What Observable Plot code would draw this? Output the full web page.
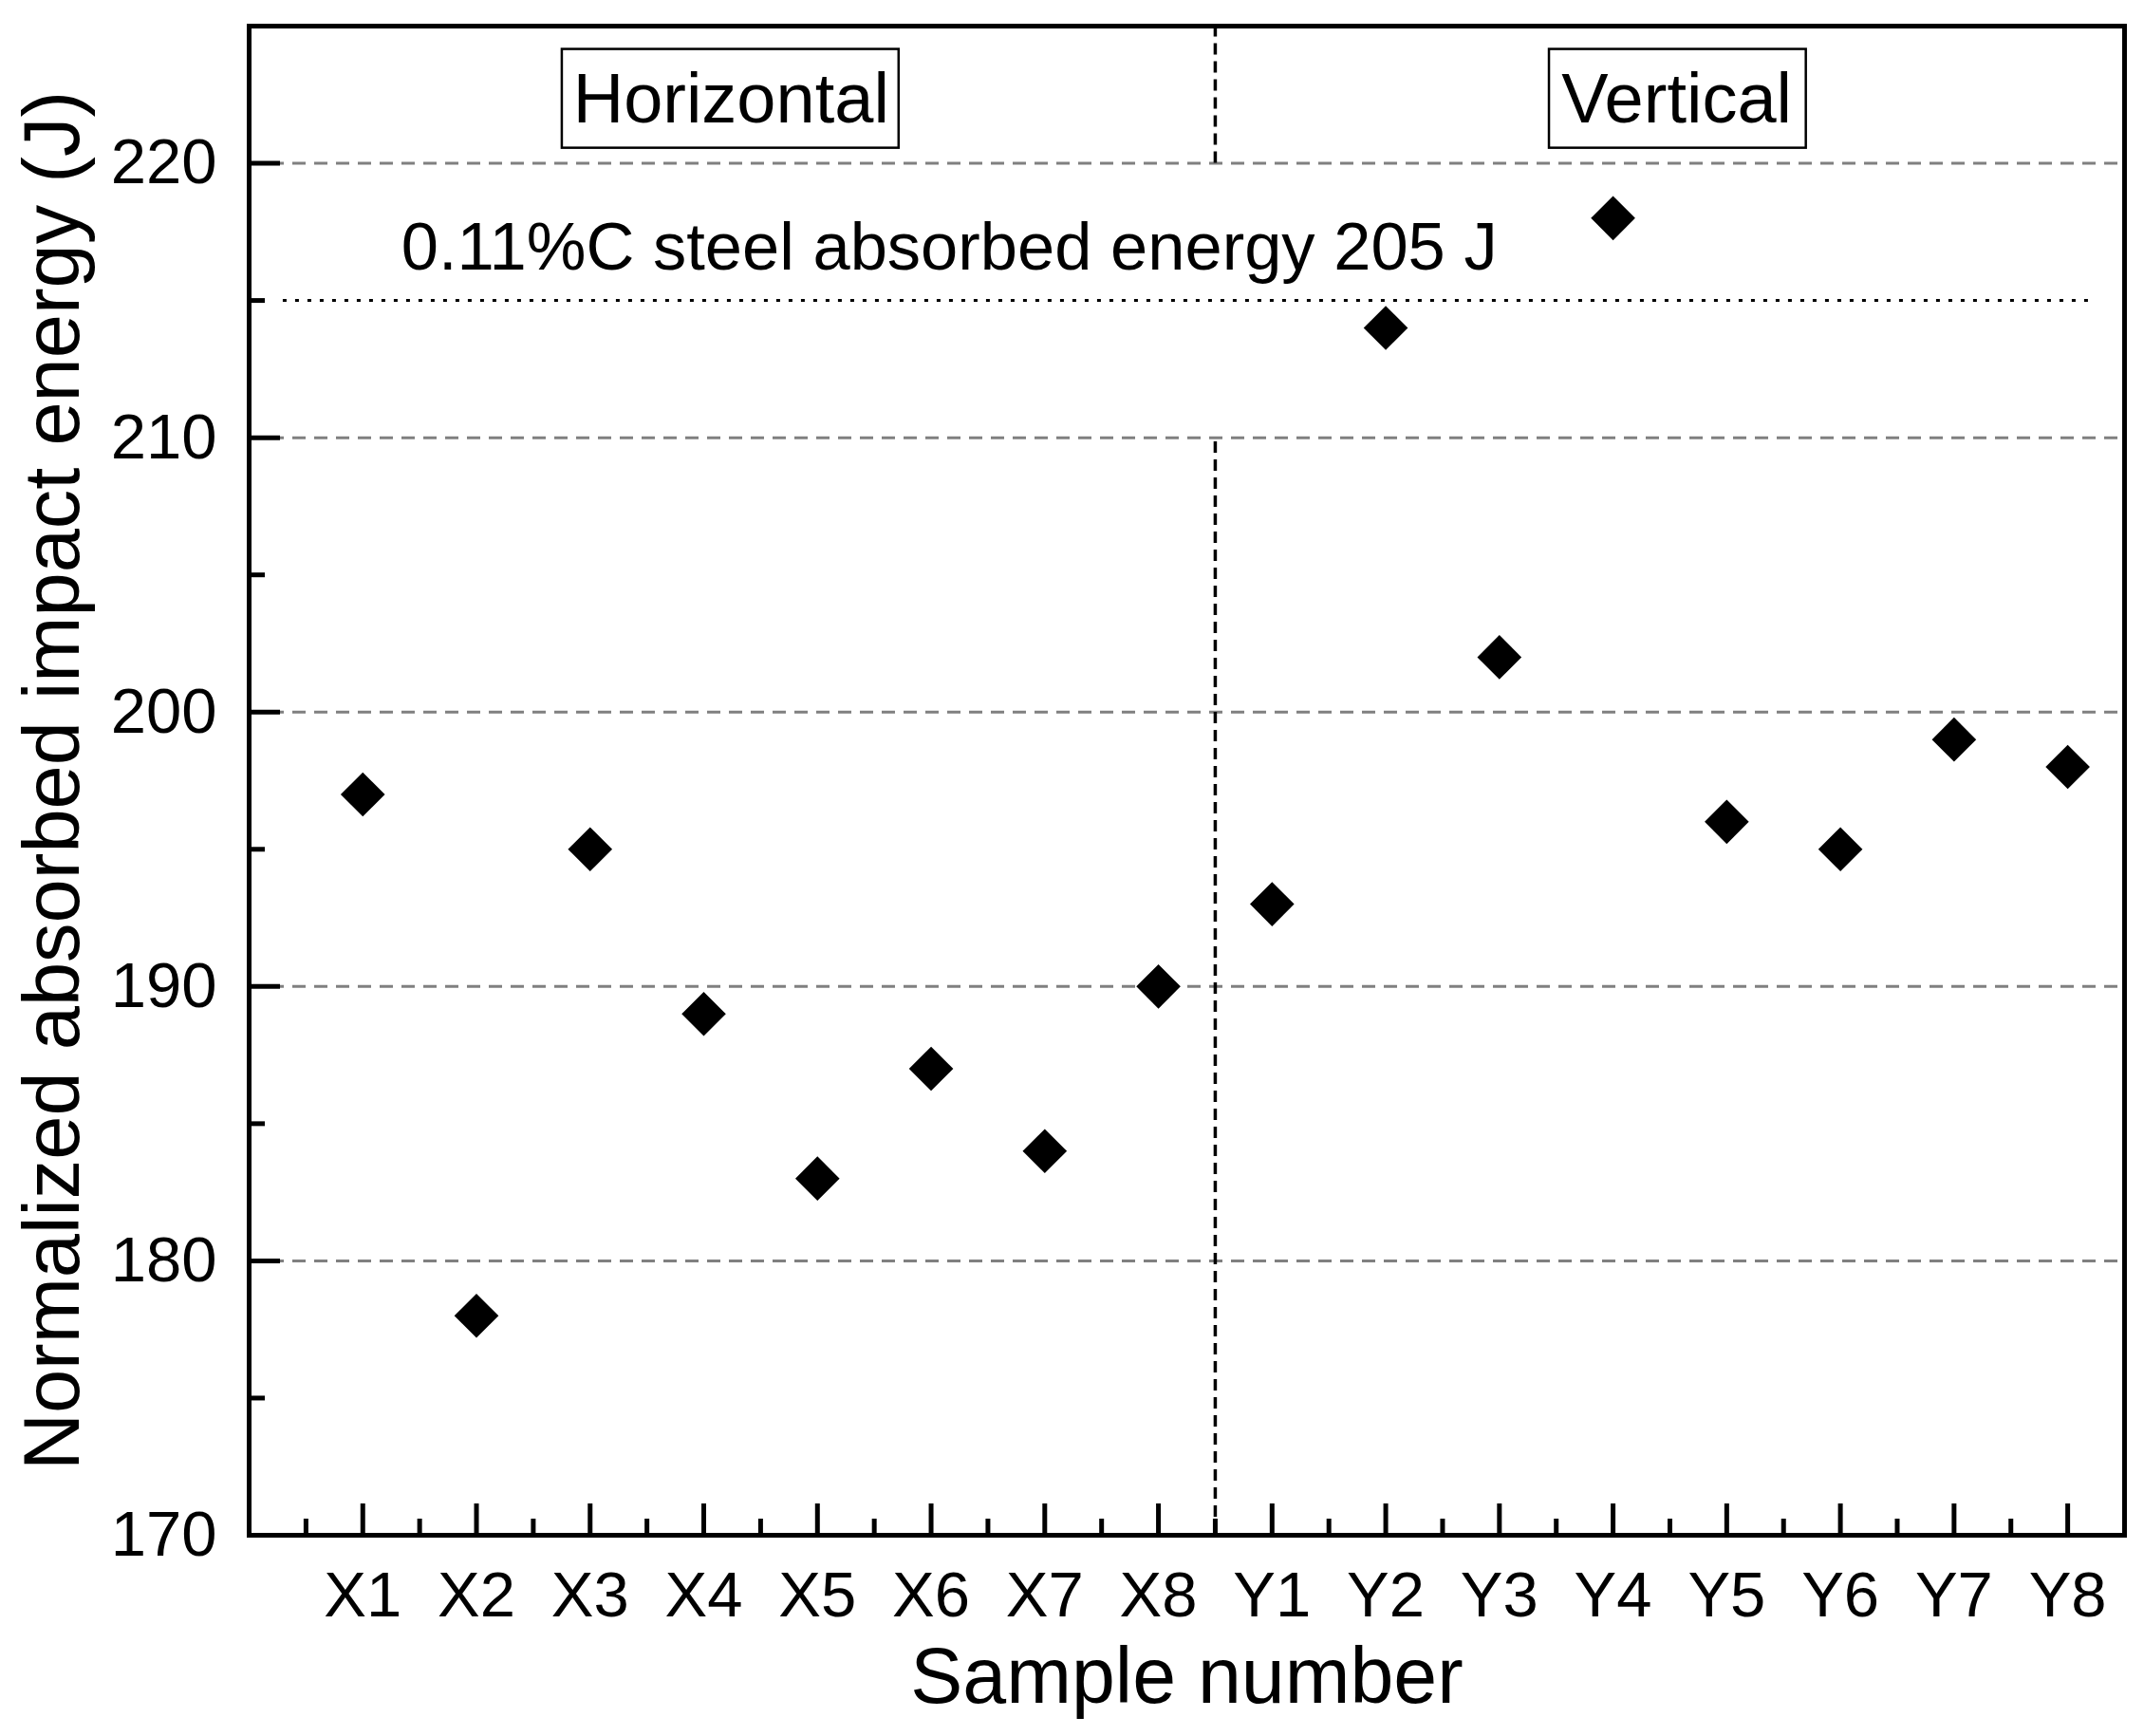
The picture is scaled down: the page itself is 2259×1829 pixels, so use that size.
<!DOCTYPE html>
<html>
<head>
<meta charset="utf-8">
<script src="https://cdn.jsdelivr.net/npm/d3@7"></script>
<script src="https://cdn.jsdelivr.net/npm/@observablehq/plot@0.6"></script>
<style>
  html, body { margin: 0; padding: 0; background: #fff; }
  svg { display: block; }
</style>
</head>
<body>
<div id="chart"></div>
<script>
// ---- data ----
const samples = ["X1","X2","X3","X4","X5","X6","X7","X8","Y1","Y2","Y3","Y4","Y5","Y6","Y7","Y8"];
const energies = [197,178,195,189,183,187,184,190,193,214,202,218,196,195,199,198];
const yMajorTicks = [170,180,190,200,210,220];
const yMinorTicks = [175,185,195,205,215];
const gridValues = [180,190,200,210,220];
const referenceLevel = 215;
const referenceLabel = "0.11%C steel absorbed energy 205 J";
const groupLabels = ["Horizontal","Vertical"];
const separatorPosition = 8.5;
const xTitle = "Sample number";
const yTitle = "Normalized absorbed impact energy (J)";

// ---- derived tables ----
const points = samples.map((s, i) => ({sample: s, pos: i + 1, energy: energies[i]}));
const xMajor = samples.map((s, i) => i + 1);
const xMinor = samples.map((s, i) => i + 0.5);
const groups = [
  {label: groupLabels[0], cx: 4.24, x1: 2.755, x2: 5.718},
  {label: groupLabels[1], cx: 12.56, x1: 11.44, x2: 13.70}
];

const tickStyle = {strokeWidth: 5, fill: "none", label: null};

const chart = Plot.plot({
  width: 2259,
  height: 1829,
  marginLeft: 262,
  marginRight: 21,
  marginTop: 27,
  marginBottom: 212,
  style: {fontFamily: "'Liberation Sans', Arial, sans-serif", color: "black", background: "white", overflow: "visible"},
  x: {type: "linear", domain: [0, 16.5], axis: null},
  y: {type: "linear", domain: [170, 225], axis: null},
  marks: [
    Plot.ruleY(gridValues, {stroke: "#808080", strokeWidth: 3, strokeDasharray: "14,9"}),
    Plot.ruleY([referenceLevel], {x1: 0.3, x2: 16.25, stroke: "black", strokeWidth: 3, strokeDasharray: "4,9"}),
    Plot.ruleX([separatorPosition], {y1: 220, y2: 225, stroke: "black", strokeWidth: 3.5, strokeDasharray: "12,7"}),
    Plot.ruleX([separatorPosition], {y1: 170, y2: 210, stroke: "black", strokeWidth: 3.5, strokeDasharray: "12,7"}),
    Plot.rect(groups, {x1: "x1", x2: "x2", y1: 220.55, y2: 224.15, fill: "white", stroke: "black", strokeWidth: 2.5}),
    Plot.text(groups, {x: "cx", y: 221.5, text: "label", fontSize: 74, lineAnchor: "bottom", textAnchor: "middle", fill: "black"}),
    Plot.text([referenceLabel], {x: 6.16, y: 216.12, text: d => d, fontSize: 70.5, lineAnchor: "bottom", textAnchor: "middle", fill: "black"}),
    Plot.dot(points, {x: "pos", y: "energy", symbol: "diamond2", r: 21, fill: "black", stroke: "none"}),
    Plot.frame({stroke: "black", strokeWidth: 5}),
    // ticks (inward)
    Plot.axisY(yMajorTicks, {tickSize: -33, ...tickStyle}),
    Plot.axisY(yMinorTicks, {tickSize: -17, ...tickStyle}),
    Plot.axisX(xMajor, {tickSize: -33, ...tickStyle}),
    Plot.axisX(xMinor, {tickSize: -17, ...tickStyle}),
    // tick labels
    Plot.axisY(yMajorTicks, {tickSize: 0, tickPadding: 34, fontSize: 67, label: null, fill: "black"}),
    Plot.axisX(xMajor, {tickSize: 0, tickPadding: 38, fontSize: 67, label: null, fill: "black", tickFormat: v => samples[v - 1]}),
    // axis titles
    Plot.text([xTitle], {frameAnchor: "bottom", dy: 176, lineAnchor: "bottom", textAnchor: "middle", fontSize: 82.5, text: d => d, fill: "black"}),
    Plot.text([yTitle], {frameAnchor: "left", dx: -180, rotate: -90, lineAnchor: "bottom", textAnchor: "middle", fontSize: 83, text: d => d, fill: "black"})
  ]
});
document.getElementById("chart").appendChild(chart);
</script>
</body>
</html>
